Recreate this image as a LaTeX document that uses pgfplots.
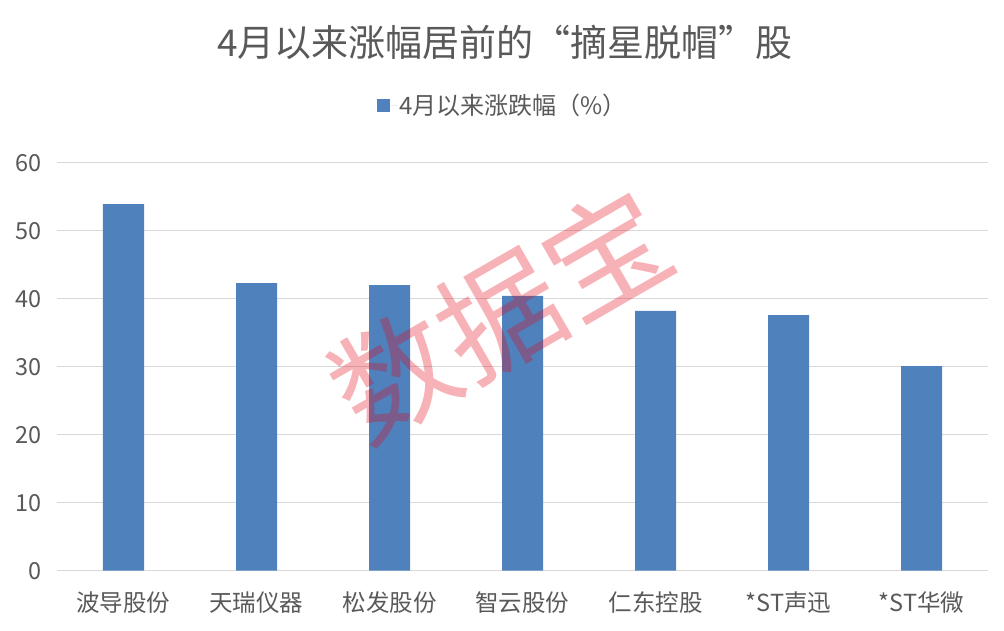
\documentclass[border=0pt]{standalone}
\usepackage{pgfplots}
\pgfplotsset{compat=1.18}
\usepackage{fontspec}
\setmainfont{Noto Sans CJK SC}
\definecolor{barblue}{RGB}{79,129,189}
\definecolor{gridgray}{RGB}{217,217,217}
\definecolor{txtgray}{RGB}{89,89,89}
\definecolor{wmred}{RGB}{230,0,18}
\begin{document}
\begin{tikzpicture}
\path[use as bounding box] (0pt,0pt) rectangle (1004pt,630pt);
\begin{axis}[
  at={(57pt,59.3pt)}, anchor=south west,
  scale only axis, width=931pt, height=408pt,
  xmin=-0.5, xmax=6.5, ymin=0, ymax=60,
  ytick={0,10,20,30,40,50,60},
  xtick={0,1,2,3,4,5,6},
  xticklabels={波导股份,天瑞仪器,松发股份,智云股份,仁东控股,*ST声迅,*ST华微},
  ymajorgrids, grid style={draw=gridgray, line width=1.3pt},
  axis x line*=bottom, x axis line style={draw=gridgray, line width=1.3pt, -},
  y axis line style={draw=none},
  axis y line*=left,
  major tick length=0pt,
  /pgf/number format/assume math mode=true,
  ticklabel style={text=txtgray},
  yticklabel style={anchor=east, xshift=-12pt, font=\fontsize{23.5}{27}\selectfont},
  xticklabel style={anchor=center, yshift=-32pt, font=\fontsize{23.5}{27}\selectfont},
  ybar, bar width=41pt,
  legend style={at={(0.479,1.1414)}, anchor=center, draw=none, fill=none,
    font=\fontsize{24}{27}\selectfont, text=txtgray},
  legend image code/.code={\fill[barblue] (0pt,-6.5pt) rectangle (13pt,6.5pt); \path (0pt,0pt) -- (20pt,0pt);},
]
\addplot[fill=barblue, draw=none] coordinates {
  (0,53.9) (1,42.3) (2,42.0) (3,40.4) (4,38.2) (5,37.6) (6,30.1)
};
\addlegendentry{4月以来涨跌幅（\%）}
\end{axis}
\node[text=txtgray, font=\fontsize{37}{42}\selectfont] at (505pt,588pt) {4月以来涨幅居前的“摘星脱帽”股};
\node[rotate=30, text=wmred, opacity=0.3, font=\fontsize{122}{122}\selectfont] at (500pt,315pt) {数据宝};
\end{tikzpicture}
\end{document}
